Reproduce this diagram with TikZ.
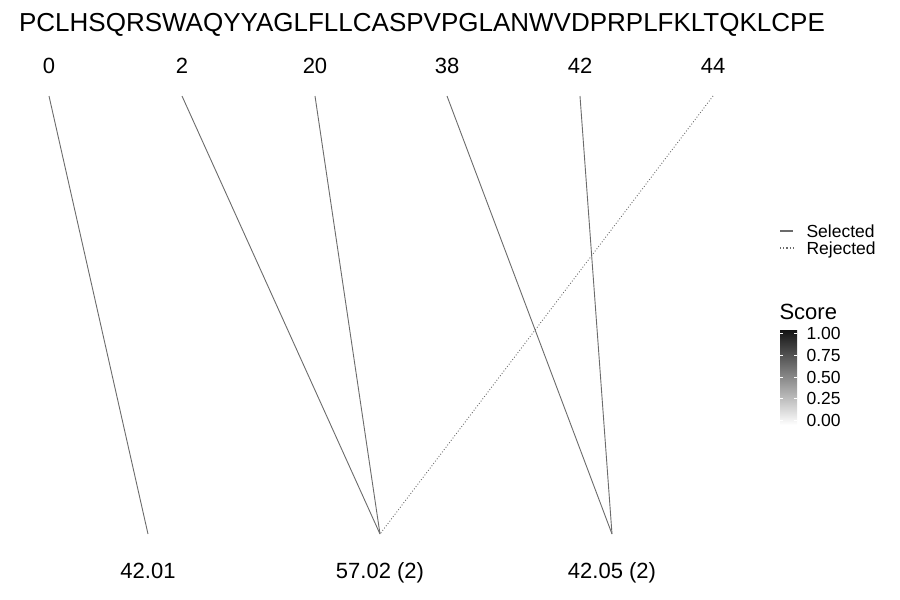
\documentclass[tikz,border=0pt]{standalone}
\usepackage{fontspec}
\setmainfont{Liberation Sans}
\begin{document}
\begin{tikzpicture}[x=1pt,y=-1pt,
    lbl/.style={font=\fontsize{22}{24}\selectfont, anchor=base},
    key/.style={anchor=base west, font=\fontsize{17.5}{19}\selectfont},
    link/.style={draw=black!58, line width=0.9pt}]

    % Frame
    \useasboundingbox (0,0) rectangle (900,600);

    % Sequence
    \node[anchor=base] (seq) at (422,31) {\fontsize{26}{28}\selectfont PCLHSQRSWAQYYAGLFLLCASPVPGLANWVDPRPLFKLTQKLCPE};

    % Positions on top
    \node[lbl] (p0) at (49,73) {0};
    \node[lbl] (p2) at (182,73) {2};
    \node[lbl] (p20) at (315,73) {20};
    \node[lbl] (p38) at (447,73) {38};
    \node[lbl] (p42) at (580,73) {42};
    \node[lbl] (p44) at (713,73) {44};
    \coordinate (t0) at (49,96);
    \coordinate (t2) at (182,96);
    \coordinate (t20) at (315,96);
    \coordinate (t38) at (447,96);
    \coordinate (t42) at (580,96);
    \coordinate (t44) at (713,96);

    % Scores at bottom
    \node[lbl] (s1) at (148,578) {42.01};
    \node[lbl] (s2) at (380,578) {57.02 (2)};
    \node[lbl] (s3) at (612,578) {42.05 (2)};
    \coordinate (b1) at (148,534);
    \coordinate (b2) at (380,534);
    \coordinate (b3) at (612,534);

    % Selected links
    \draw[link] (t0) -- (b1);
    \draw[link] (t2) -- (b2);
    \draw[link] (t20) -- (b2);
    \draw[link] (t38) -- (b3);
    \draw[link] (t42) -- (b3);

    % Rejected link
    \draw[link, dotted] (t44) -- (b2);

    % Legend for line types
    \draw[link, line width=1.2pt] (780,231) -- (793,231);
    \draw[link, line width=1.2pt, dotted] (780,248) -- (793,248);
    \node[key] (sel) at (803,237) {Selected};
    \node[key] (rej) at (803,254) {Rejected};

    % Colour bar
    \node[anchor=base west, font=\fontsize{22}{24}\selectfont] (score) at (776,319) {Score};
    \shade[top color=black!92, bottom color=white] (780,330) rectangle (797,425);
    \foreach \y/\v in {333/1.00, 355/0.75, 377/0.50, 398/0.25, 420/0.00} {
        \draw[white, line width=0.4pt] (780,\y) -- (783,\y) (794,\y) -- (797,\y);
        \node[key] at (803,\y+6) {\v};
    }

\end{tikzpicture}
\end{document}
